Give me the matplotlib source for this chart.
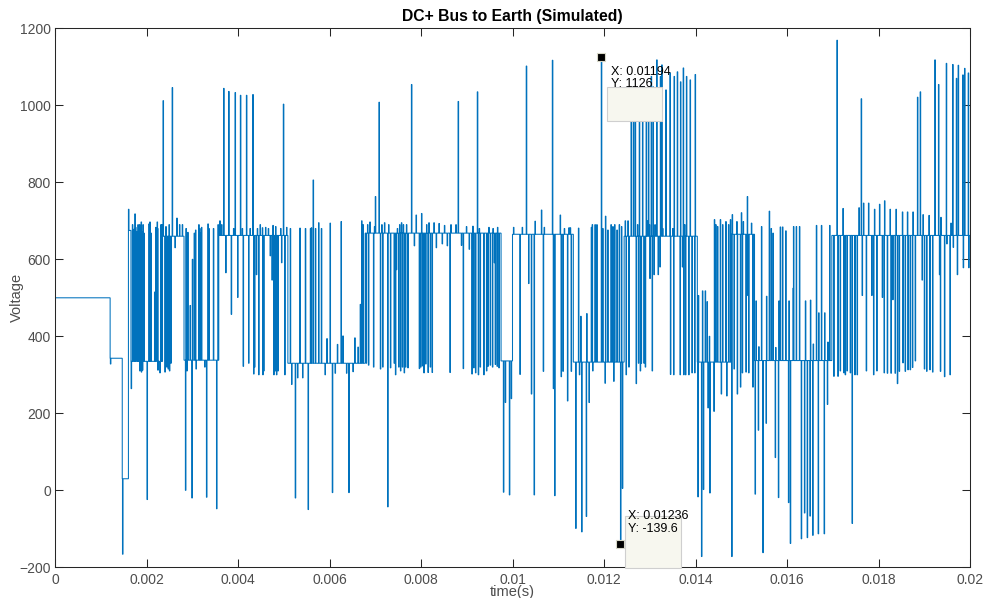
import numpy as np
import matplotlib
matplotlib.use("Agg")
import matplotlib.pyplot as plt
from matplotlib.patches import Rectangle

# ---------------- data (time in ms, voltage in V) ----------------
# dominant (resting) level of the waveform, starting at each time
seg_t = [0, 1.205, 1.47, 1.605, 1.66, 2.35, 2.82, 3.58, 5.09, 6.78,
         9.75, 10.0, 11.33, 12.44, 14.04, 14.78, 15.29, 16.98]
seg_v = [500, 343, 30, 675, 335, 660, 338, 662, 330, 668,
         336, 665, 333, 660, 333, 665, 337, 662]

# short switching excursions (time ms, peak voltage)
pulses = [
    (1.21, 328), (1.475, -166), (1.605, 730),
    (1.663, 264), (1.69, 690), (1.72, 678), (1.744, 718), (1.76, 683), (1.79, 672), (1.81, 690),
    (1.83, 672), (1.846, 690), (1.85, 310), (1.86, 678), (1.88, 697), (1.885, 307), (1.90, 672),
    (1.91, 312), (1.92, 690), (1.94, 668), (2.01, -24), (2.05, 692), (2.07, 697), (2.095, 668),
    (2.175, 515), (2.20, 683), (2.23, 697), (2.24, 680), (2.245, 312), (2.29, 305), (2.31, 690),
    (2.33, 690),
    (2.36, 1012), (2.40, 307), (2.42, 685), (2.44, 320), (2.47, 315), (2.49, 690), (2.50, 310),
    (2.53, 330), (2.56, 1046), (2.62, 630), (2.66, 707), (2.72, 690), (2.78, 690),
    (2.85, 0), (2.86, 680), (2.88, 310), (2.90, 670), (2.95, 480), (2.99, -20), (3.00, 600),
    (3.04, 668), (3.07, 676), (3.08, 315), (3.14, 690), (3.16, 680), (3.18, 668), (3.20, 683),
    (3.27, 320), (3.31, -18), (3.34, 692), (3.36, 680), (3.46, 680), (3.53, -48), (3.56, 690),
    (3.60, 700), (3.64, 690), (3.685, 1044), (3.73, 565), (3.795, 1036), (3.85, 457), (3.90, 680),
    (3.934, 1033), (3.99, 501), (4.051, 1026), (4.09, 680), (4.11, 322), (4.183, 1026), (4.23, 330),
    (4.26, 680), (4.322, 1028), (4.34, 302), (4.36, 320), (4.40, 560), (4.42, 680), (4.45, 300),
    (4.48, 690), (4.53, 682), (4.54, 300), (4.56, 310), (4.60, 683), (4.66, 680), (4.70, 609),
    (4.74, 546), (4.76, 688), (4.78, 300), (4.81, 310), (4.82, 685), (4.84, 300), (4.87, 310),
    (4.93, 680), (4.95, 591), (4.99, 1003), (5.02, 300), (5.06, 683),
    (5.14, 680), (5.17, 275), (5.25, -20), (5.30, 292), (5.35, 681), (5.41, 292), (5.47, 680),
    (5.53, -50), (5.58, 680), (5.60, 682), (5.64, 806), (5.69, 680), (5.76, 695), (5.82, 680),
    (5.90, 300), (5.94, 394), (6.01, 694), (6.06, -6), (6.12, 304), (6.17, 379), (6.25, 698),
    (6.29, 401), (6.37, 304), (6.42, -6), (6.51, 308), (6.55, 396), (6.62, 372), (6.67, 483),
    (6.70, 700), (6.73, 690),
    (6.80, 330), (6.83, 690), (6.85, 325), (6.88, 697), (6.96, 320), (6.98, 685), (7.00, 763),
    (7.08, 1008), (7.11, 315), (7.14, 690), (7.16, 320), (7.20, 695), (7.27, -43), (7.29, 690),
    (7.33, 318), (7.41, 330), (7.44, 300), (7.46, 573), (7.48, 680), (7.51, 320), (7.53, 690),
    (7.55, 310), (7.57, 695), (7.59, 320), (7.61, 690), (7.63, 305), (7.66, 320), (7.68, 690),
    (7.71, 318), (7.79, 1054), (7.85, 635), (7.89, 715), (7.96, 316), (7.99, 320), (8.01, 719),
    (8.03, 323), (8.06, 305), (8.10, 328), (8.12, 690), (8.15, 306), (8.17, 695), (8.20, 320),
    (8.24, 306), (8.28, 695), (8.33, 630), (8.39, 693), (8.46, 640), (8.51, 688), (8.57, 635),
    (8.63, 306), (8.65, 690), (8.76, 690), (8.81, 1010), (8.88, 636), (8.92, 316), (8.99, 685),
    (9.05, 626), (9.11, 302), (9.13, 686), (9.15, 318), (9.19, 305), (9.23, 1035), (9.25, 300),
    (9.27, 680), (9.29, 320), (9.37, 300), (9.43, 310), (9.46, 322), (9.48, 683), (9.51, 325),
    (9.56, 320), (9.57, 680), (9.60, 591), (9.62, 327), (9.66, 322), (9.67, 683), (9.70, 318),
    (9.80, -5), (9.84, 228), (9.93, -12), (9.97, 238),
    (10.02, 683), (10.16, 301), (10.21, 683), (10.30, 1102), (10.35, 537), (10.41, 250),
    (10.47, -12), (10.49, 699), (10.63, 728), (10.67, 309), (10.69, 683), (10.87, 1117),
    (10.89, 264), (10.92, -14), (11.04, 715), (11.06, 295), (11.10, 309), (11.13, 680),
    (11.20, 232), (11.23, 682), (11.26, 682), (11.28, 309),
    (11.38, -99), (11.44, 681), (11.46, 300), (11.49, 452), (11.51, -108), (11.61, -68),
    (11.62, 459), (11.67, 228), (11.72, 683), (11.74, 690), (11.75, 310), (11.80, 690),
    (11.84, 690), (11.94, 1126), (11.97, 680), (12.02, 278), (12.03, 712), (12.08, 676),
    (12.15, 690), (12.19, 685), (12.21, 283), (12.23, 690), (12.28, 676), (12.33, 690),
    (12.36, -139.6), (12.38, 685), (12.40, 5),
    (12.46, 700), (12.48, 300), (12.52, 700), (12.54, 320), (12.59, 963), (12.64, 1047),
    (12.68, 1040), (12.70, 277), (12.73, 690), (12.75, 330), (12.77, 960), (12.79, 310),
    (12.81, 330), (12.84, 1048), (12.87, 330), (12.90, 320), (12.92, 1021), (12.94, 700),
    (12.97, 958), (12.99, 690), (13.00, 550), (13.03, 1075), (13.05, 310), (13.07, 1048),
    (13.09, 560), (13.11, 690), (13.15, 1118), (13.18, 560), (13.22, 580), (13.23, 1075),
    (13.26, 1105), (13.28, 680), (13.35, 1040), (13.44, 1084), (13.45, 301), (13.50, 680),
    (13.52, 300), (13.53, 1075), (13.60, 1087), (13.66, 300), (13.67, 1061), (13.71, 580),
    (13.73, 1097), (13.74, 300), (13.76, 690), (13.78, 300), (13.80, 1075), (13.85, 300),
    (13.88, 1066), (13.92, 305), (13.98, 305), (13.99, 1080),
    (14.05, -17), (14.06, 506), (14.13, -172), (14.15, 518), (14.17, 2), (14.21, 518),
    (14.25, 490), (14.27, 214), (14.30, 400), (14.31, -7), (14.40, 205), (14.41, 703),
    (14.44, 690), (14.48, 685), (14.54, 703), (14.56, 250), (14.59, 690), (14.66, 698),
    (14.68, 245), (14.72, 690), (14.76, 703),
    (14.79, -172), (14.80, 716), (14.84, 315), (14.90, 698), (14.91, 250), (14.98, 268),
    (15.00, 721), (15.02, 305), (15.04, 698), (15.10, 307), (15.13, 763), (15.14, 506),
    (15.16, 305), (15.22, 694), (15.25, 268),
    (15.30, -10), (15.32, 492), (15.37, 156), (15.38, 373), (15.44, 685), (15.47, -162),
    (15.54, 174), (15.55, 504), (15.61, 725), (15.65, 680), (15.69, 668), (15.74, 85),
    (15.75, 371), (15.81, -19), (15.82, 492), (15.85, 684), (15.90, 684), (15.97, 674),
    (16.03, -32), (16.04, 492), (16.07, -138), (16.13, 525), (16.14, 685), (16.20, 685),
    (16.27, 685), (16.31, -126), (16.38, -59), (16.40, 492), (16.44, -123), (16.50, -67),
    (16.51, 494), (16.56, -117), (16.57, 380), (16.64, 688), (16.68, -113), (16.69, 461),
    (16.75, 688), (16.81, -113), (16.82, 461), (16.88, 223), (16.89, 385), (16.93, 688),
    (17.02, 296), (17.09, 1169), (17.11, 296), (17.16, 310), (17.22, 732), (17.24, 305),
    (17.27, 300), (17.31, 310), (17.38, 305), (17.42, -86), (17.48, 300), (17.53, 300),
    (17.57, 734), (17.62, 1017), (17.64, 506), (17.67, 746), (17.73, 310), (17.78, 746),
    (17.85, 506), (17.89, 300), (17.91, 730), (17.96, 310), (18.02, 743), (18.08, 501),
    (18.12, 305), (18.13, 752), (18.19, 304), (18.25, 730), (18.27, 304), (18.31, 495),
    (18.36, 304), (18.38, 730), (18.41, 277), (18.45, 309), (18.52, 723), (18.53, 331),
    (18.58, 309), (18.63, 723), (18.64, 313), (18.69, 313), (18.74, 319), (18.75, 723),
    (18.80, 336), (18.85, 1021), (18.91, 1035), (18.95, 546), (18.97, 716), (19.00, 315),
    (19.05, 309), (19.10, 714), (19.12, 313), (19.18, 307), (19.23, 1118), (19.31, 1054),
    (19.33, 560), (19.35, 309), (19.36, 709), (19.44, 295), (19.48, 1109), (19.49, 640),
    (19.56, 300), (19.58, 694), (19.62, 1106), (19.63, 631), (19.70, 1070), (19.72, 560),
    (19.74, 1104), (19.84, 1079), (19.85, 578), (19.88, 1096), (19.96, 1084), (19.97, 578),
]
t_end_ms = 20.0

# data tips (time s, voltage)
tips = [(0.01194, 1126), (0.01236, -139.6)]

xticks = [0, 0.002, 0.004, 0.006, 0.008, 0.01, 0.012, 0.014, 0.016, 0.018, 0.02]
xticklabels = ['0', '0.002', '0.004', '0.006', '0.008', '0.01', '0.012', '0.014',
               '0.016', '0.018', '0.02']
yticks = [-200, 0, 200, 400, 600, 800, 1000, 1200]

# ---------------- build the switching trace ----------------
w = 0.012  # pulse width in ms
events = [(t, 0, v) for t, v in zip(seg_t, seg_v)] + [(t, 1, v) for t, v in pulses]
events.sort(key=lambda e: (e[0], e[1]))
xs, ys = [], []
cur = None
for t, kind, v in events:
    if kind == 0:
        if cur is None:
            xs.append(t); ys.append(v)
        else:
            xs += [t, t]; ys += [cur, v]
        cur = v
    else:
        xs += [t, t, t + w, t + w]
        ys += [cur, v, v, cur]
xs.append(t_end_ms); ys.append(cur)
xs = np.array(xs) / 1000.0
ys = np.array(ys)

# ---------------- figure ----------------
plt.rcParams['font.family'] = ['Liberation Sans', 'DejaVu Sans']
W, H = 985, 598
fig = plt.figure(figsize=(W / 100, H / 100), dpi=100)
ax = fig.add_axes([55 / W, (H - 567.3) / H, 915 / W, 539 / H])

ax.plot(xs, ys, color='#0072BD', lw=0.75, solid_joinstyle='miter')
ax.set_xlim(0, 0.02)
ax.set_ylim(-200, 1200)
ax.set_xticks(xticks)
ax.set_xticklabels(xticklabels)
ax.set_yticks(yticks)

gray = '#262626'
tickgray = '#4D4D4D'
for s in ax.spines.values():
    s.set_color(gray)
    s.set_linewidth(0.75)
ax.tick_params(direction='in', length=6, width=0.75, colors=gray, labelcolor=tickgray,
               labelsize=10, top=True, right=True, pad=3)
ax.tick_params(axis='x', pad=4)

ax.set_title('DC+ Bus to Earth (Simulated)', fontsize=11.3, fontweight='bold', color='black', pad=5)
ax.set_xlabel('time(s)', fontsize=10.5, color=tickgray)
ax.xaxis.set_label_coords(0.5, -0.033)
ax.set_ylabel('Voltage', fontsize=10.5, color=tickgray)
ax.yaxis.set_label_coords(-0.034, 0.5)

# ---------------- data tips ----------------
fig.canvas.draw()
def px_to_fig(dx, dy, base):
    return ((base[0] + dx) / W, (base[1] + dy) / H)

tip_layout = [
    # box offsets (left, right, top, bottom) in px, text offsets (dx, dy) from marker
    dict(box=(6, 61, -30, -64), txt=[(10, -15), (10, -27.5)]),
    dict(box=(5, 61, 28, -24), txt=[(8, 28), (8, 15)]),
]
for (tx, ty), lay in zip(tips, tip_layout):
    base = ax.transData.transform((tx, ty))
    l, r, tp, bt = lay['box']
    x0, y0 = px_to_fig(l, bt, base)
    x1, y1 = px_to_fig(r, tp, base)
    fig.add_artist(Rectangle((x0, y0), x1 - x0, y1 - y0, transform=fig.transFigure,
                             facecolor='#F7F7EF', edgecolor='#CFCFCF', lw=0.8, zorder=5))
    ax.plot([tx], [ty], marker='s', ms=5.5, color='black', mec='#D8D8C8', mew=0.8,
            zorder=6, clip_on=False)
    labels = ['X: %g' % tx, 'Y: %g' % ty]
    for (dx, dy), lab in zip(lay['txt'], labels):
        fx, fy = px_to_fig(dx, dy, base)
        fig.text(fx, fy, lab, fontsize=9, color='black', ha='left', va='center', zorder=7)

fig.savefig('out.png', dpi=100)
